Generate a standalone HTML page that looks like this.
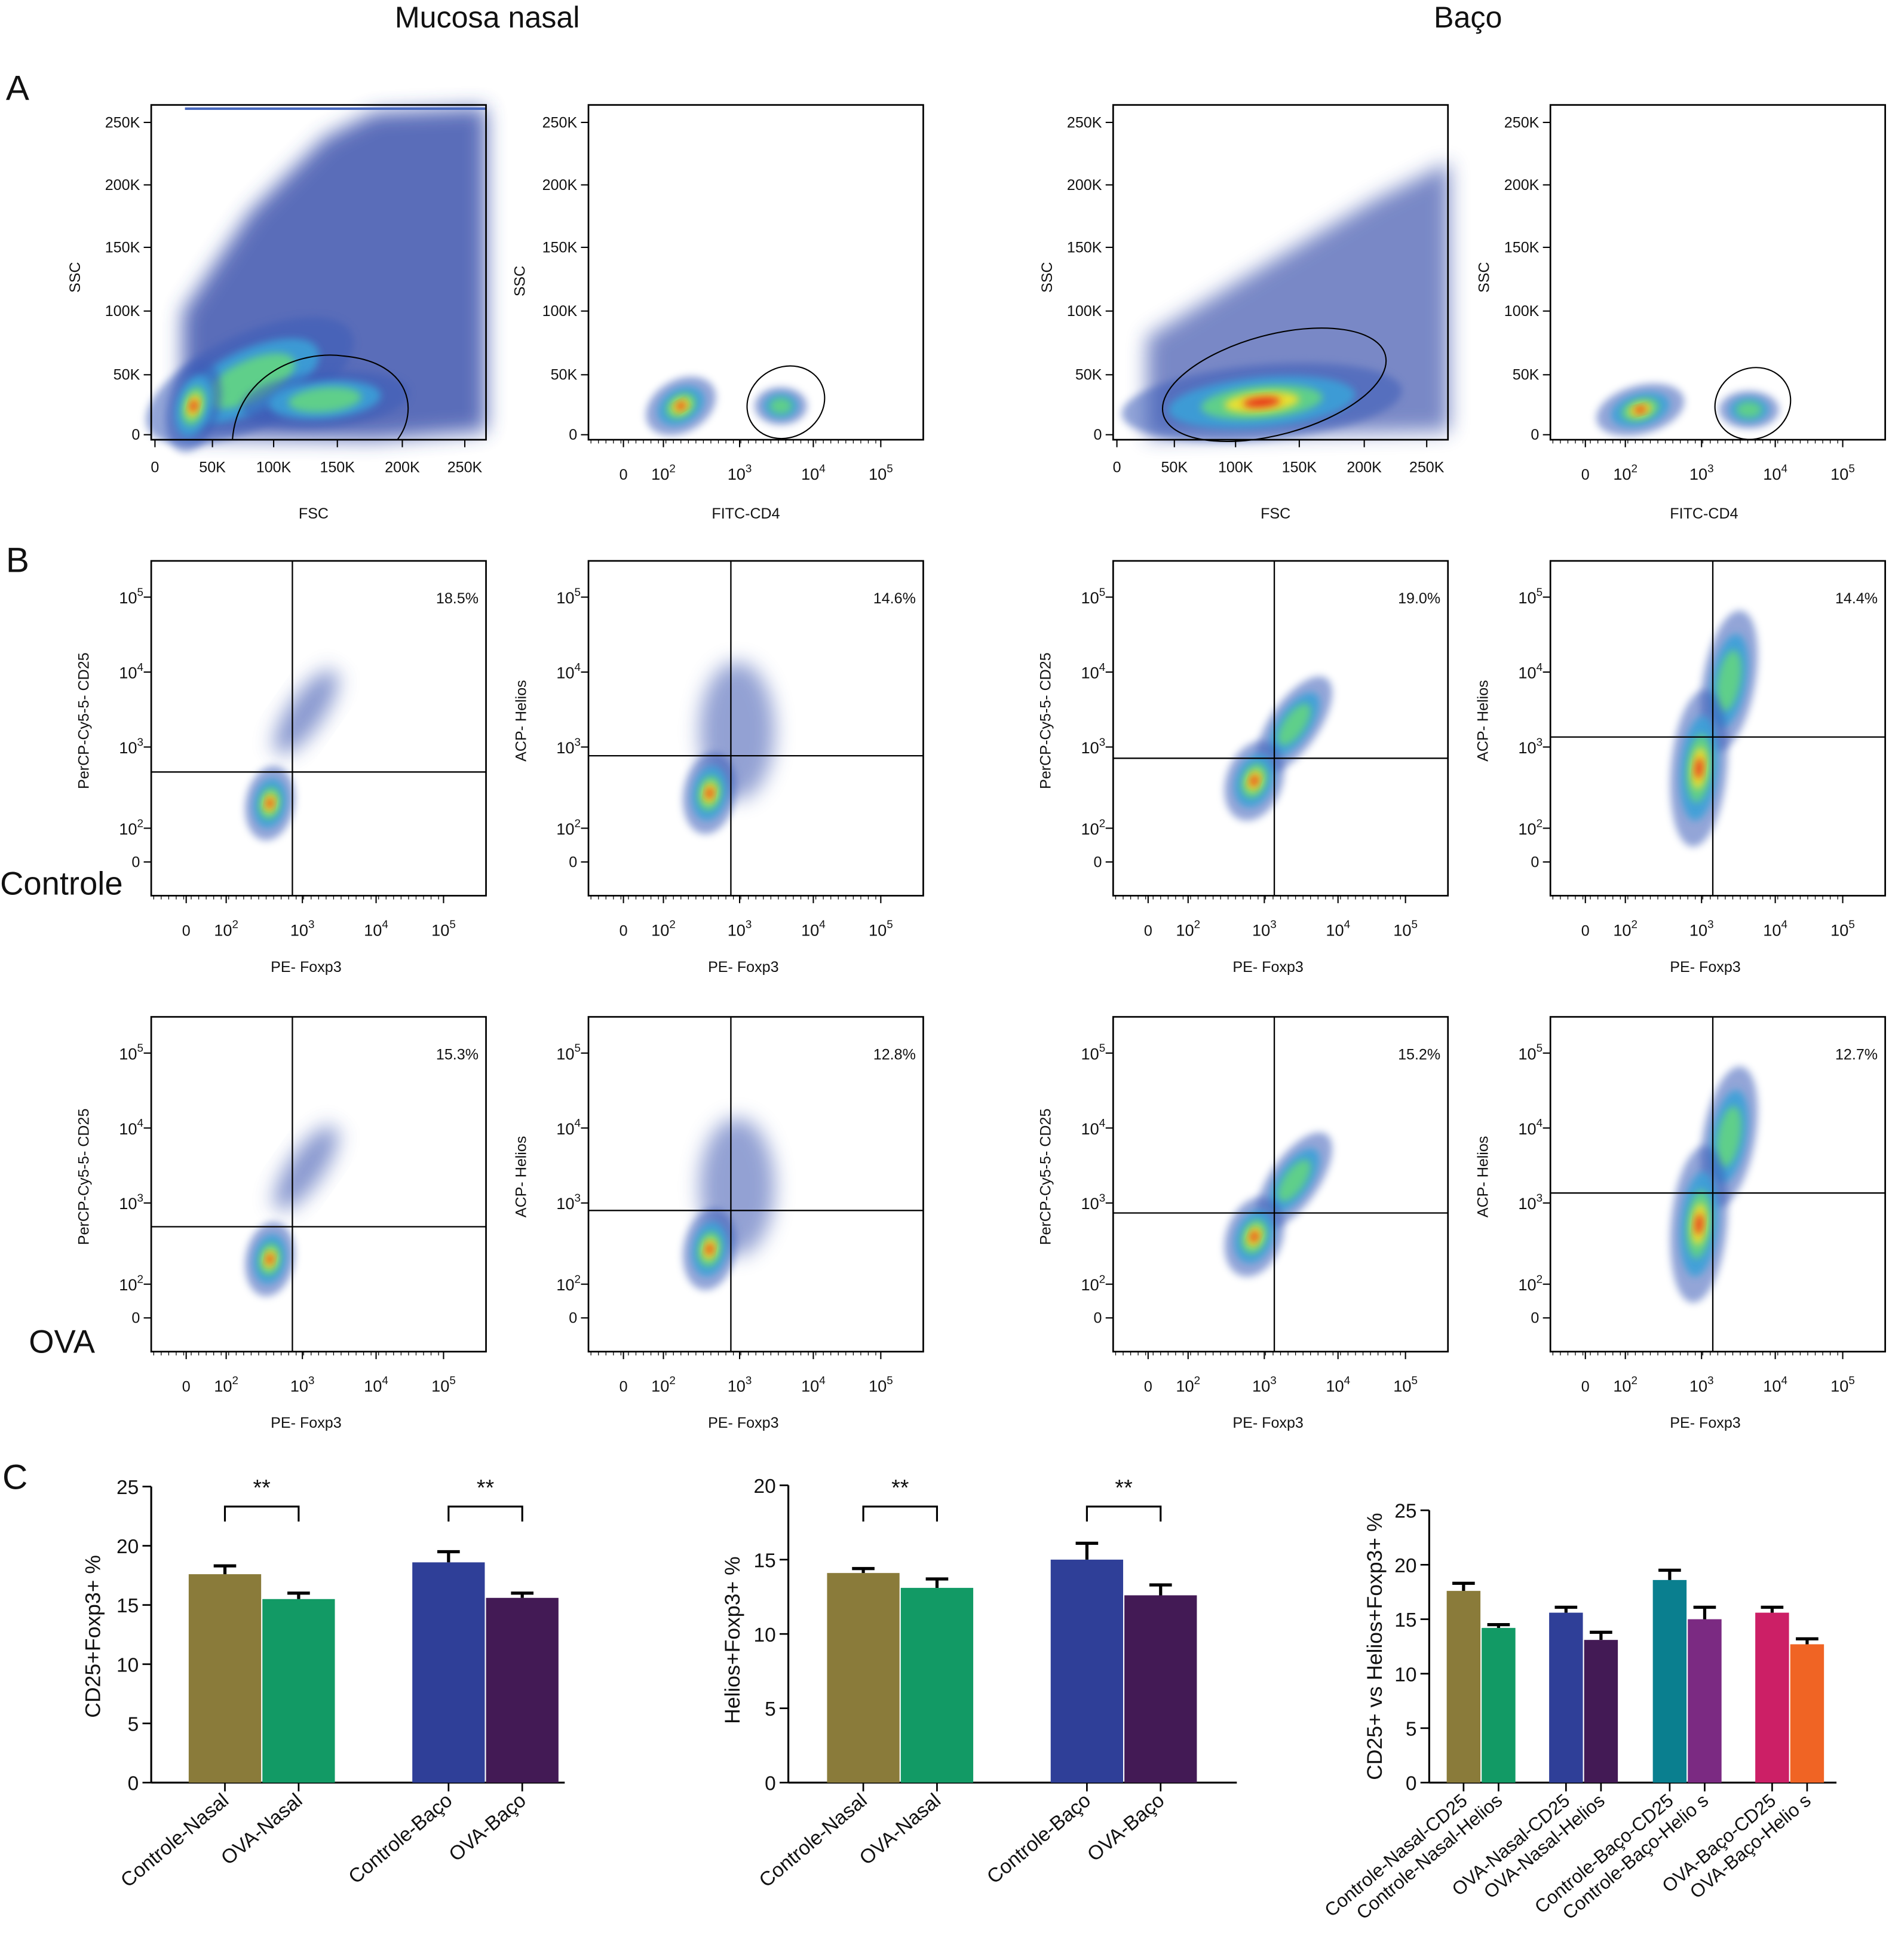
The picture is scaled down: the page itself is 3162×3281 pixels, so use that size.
<!DOCTYPE html>
<html><head><meta charset="utf-8"><style>
html,body{margin:0;padding:0;background:#fff}
svg{display:block}
text{font-family:"Liberation Sans",Arial,sans-serif;fill:#111}
</style></head><body>
<svg id="fig" width="3162" height="3281" viewBox="0 0 1512 1569" xmlns="http://www.w3.org/2000/svg">
<defs>
<filter id="bl" x="-50%" y="-50%" width="200%" height="200%"><feGaussianBlur stdDeviation="3"/></filter>
<filter id="bl2" x="-50%" y="-50%" width="200%" height="200%"><feGaussianBlur stdDeviation="8"/></filter>
</defs>
<g id="root"></g>
</svg>
<script>
// ---- Bar chart data ----
const c1Categories=["Controle-Nasal","OVA-Nasal","Controle-Baço","OVA-Baço"];
const c1Values=[17.6,15.5,18.6,15.6];
const c1Errors=[0.7,0.5,0.9,0.4];
const c1Ticks=[0,5,10,15,20,25];
const c2Categories=["Controle-Nasal","OVA-Nasal","Controle-Baço","OVA-Baço"];
const c2Values=[14.1,13.1,15.0,12.6];
const c2Errors=[0.3,0.6,1.1,0.7];
const c2Ticks=[0,5,10,15,20];
const c3Categories=["Controle-Nasal-CD25","Controle-Nasal-Helios","OVA-Nasal-CD25","OVA-Nasal-Helios","Controle-Baço-CD25","Controle-Baço-Helio s","OVA-Baço-CD25","OVA-Baço-Helio  s"];
const c3Values=[17.6,14.2,15.6,13.1,18.6,15.0,15.6,12.7];
const c3Errors=[0.7,0.3,0.5,0.7,0.9,1.1,0.5,0.5];
const c3Ticks=[0,5,10,15,20,25];
const pctRow1=["18.5%","14.6%","19.0%","14.4%"];
const pctRow2=["15.3%","12.8%","15.2%","12.7%"];
const linTicks=["0","50K","100K","150K","200K","250K"];

const NS="http://www.w3.org/2000/svg";
const root=document.getElementById('root');
function el(tag,attrs,parent,txt){const e=document.createElementNS(NS,tag);for(const k in attrs)e.setAttribute(k,attrs[k]);if(txt!==undefined)e.textContent=txt;(parent||root).appendChild(e);return e;}
function T(x,y,s,size,anchor,parent,name,rot){const t=el('text',{x:x,y:y,'font-size':size,'text-anchor':anchor||'middle'},parent,s);if(rot)t.setAttribute('transform',`rotate(${rot} ${x} ${y})`);

return t;}
function sup(x,y,exp,parent){const t=el('text',{x:x,y:y,'font-size':13,'text-anchor':'middle'},parent);


t.appendChild(document.createTextNode('10'));const s=el('tspan',{dy:-6,'font-size':9},t,exp);return t;}

T(390,22,"Mucosa nasal",24,'middle',null,'title-mucosa-nasal');
T(1175,22,"Baço",24,'middle',null,'title-baco');
T(14,80,"A",28,'middle',null,'panel-a-label');
T(14,458,"B",28,'middle',null,'panel-b-label');
T(12,1192,"C",28,'middle',null,'panel-c-label');
T(0,716,"Controle",26,'start',null,'row-label-controle');
T(23,1083,"OVA",26,'start',null,'row-label-ova');

function blob(g,cx,cy,rx,ry,rot,hot){
  const tr=`rotate(${rot} ${cx} ${cy})`;
  el('ellipse',{cx,cy,rx:rx*1.5,ry:ry*1.5,fill:'#3a5bb8',opacity:0.55,filter:'url(#bl)',transform:tr},g);
  el('ellipse',{cx,cy,rx:rx,ry:ry,fill:'#3aa0d8',opacity:0.9,filter:'url(#bl)',transform:tr},g);
  el('ellipse',{cx,cy,rx:rx*0.65,ry:ry*0.65,fill:'#5fcf8a',filter:'url(#bl)',transform:tr},g);
  if(hot){el('ellipse',{cx,cy,rx:rx*0.4,ry:ry*0.4,fill:'#e8e030',filter:'url(#bl)',transform:tr},g);
  el('ellipse',{cx,cy,rx:rx*0.2,ry:ry*0.2,fill:'#e8321e',filter:'url(#bl)',transform:tr},g);}
}
function frame(g,x0,y0){
  el('rect',{x:x0,y:y0,width:268,height:268,fill:'none',stroke:'#000','stroke-width':1.3},g);
}
function linPlot(x0,y0,name){
  const g=el('g',{});
  return g;
}
function linAxes(g,x0,y0){
  frame(g,x0,y0);
  const yt=[348,300,249,198,148,98];
  yt.forEach((y,i)=>{el('line',{x1:x0-6,y1:y0-84+y,x2:x0,y2:y0-84+y,stroke:'#000'},g);T(x0-9,y0-84+y+4,linTicks[i],12,'end',g,'y-tick-label');});
}
function xLin(g,x0){const xs=[3,49,98,149,201,251];xs.forEach((d,i)=>{el('line',{x1:x0+d,y1:352,x2:x0+d,y2:358,stroke:'#000'},g);T(x0+d,378,linTicks[i],12,'middle',g,'x-tick-label');});}
function xLog(g,x0,yb){const xs=[28,60,121,180,234];xs.forEach((d,i)=>{el('line',{x1:x0+d,y1:yb,x2:x0+d,y2:yb+6,stroke:'#000'},g);if(i==0)T(x0+d,yb+32,"0",12,'middle',g,'x-tick-label');else sup(x0+d,yb+32,String(i+1),g);});
  for(let d=2;d<234;d+=6)el('line',{x1:x0+d,y1:yb,x2:x0+d,y2:yb+3,stroke:'#000','stroke-width':0.6},g);}
// A1
let g=linPlot(121,84,'fsc-ssc-plot-nasal');
el('polygon',{points:'146,350 146,250 200,170 260,110 300,90 389,86 389,345 300,352',fill:'#3048a8',opacity:0.8,filter:'url(#bl2)'},g);
el('rect',{x:148,y:86,width:241,height:2,fill:'#4a6ac0'},g);
blob(g,200,305,60,25,-25,false);blob(g,260,320,45,15,-5,false);blob(g,155,325,14,25,15,true);
el('path',{d:'M186,352 C190,300 240,280 275,285 C330,290 335,330 318,352',fill:'none',stroke:'#000','stroke-width':1},g);
linAxes(g,121,84);
xLin(g,121);T(251,415,"FSC",12,'middle',g,'x-axis-title');T(64,222,"SSC",12,'middle',g,'y-axis-title',-90);
// A2
g=linPlot(471,84,'cd4-ssc-plot-nasal');
blob(g,545,325,20,14,-30,true);blob(g,625,325,14,10,0,false);
el('ellipse',{cx:629,cy:322,rx:32,ry:28,transform:'rotate(-30 629 322)',fill:'none',stroke:'#000'},g);
linAxes(g,471,84);
xLog(g,471,352);T(597,415,"FITC-CD4",12,'middle',g,'x-axis-title');T(420,225,"SSC",12,'middle',g,'y-axis-title',-90);
// A3
g=linPlot(891,84,'fsc-ssc-plot-baco');
el('polygon',{points:'918,350 918,270 1000,220 1100,160 1160,130 1160,345',fill:'#3048a8',opacity:0.65,filter:'url(#bl2)'},g);
blob(g,1010,322,75,20,-5,true);
el('ellipse',{cx:1020,cy:308,rx:92,ry:40,transform:'rotate(-15 1020 308)',fill:'none',stroke:'#000'},g);
linAxes(g,891,84);
xLin(g,891);T(1021,415,"FSC",12,'middle',g,'x-axis-title');T(842,222,"SSC",12,'middle',g,'y-axis-title',-90);
// A4
g=linPlot(1241,84,'cd4-ssc-plot-baco');
blob(g,1313,328,24,13,-15,true);blob(g,1400,328,16,10,0,false);
el('ellipse',{cx:1403,cy:323,rx:31,ry:28,transform:'rotate(-30 1403 323)',fill:'none',stroke:'#000'},g);
linAxes(g,1241,84);
xLog(g,1241,352);T(1364,415,"FITC-CD4",12,'middle',g,'x-axis-title');T(1192,222,"SSC",12,'middle',g,'y-axis-title',-90);

// Row B
function logPlot(x0,y0,name,ytitle,pct,vx,hy,blobs){
  const g=el('g',{});
  blobs(g);
  frame(g,x0,y0);
  const yt=[241,214,149,89,29];
  const labs=['0','2','3','4','5'];
  yt.forEach((d,i)=>{const y=y0+d;el('line',{x1:x0-6,y1:y,x2:x0,y2:y,stroke:'#000'},g);if(i==0)T(x0-9,y+4,'0',12,'end',g,'y-tick-label');else sup(x0-16,y+5,labs[i],g);});
  el('line',{x1:vx,y1:y0,x2:vx,y2:y0+268,stroke:'#000','stroke-width':1.1},g);
  el('line',{x1:x0,y1:hy,x2:x0+268,y2:hy,stroke:'#000','stroke-width':1.1},g);
  T(x0+262,y0+34,pct,12,'end',g,'quadrant-percent');
  xLog(g,x0,y0+268);
  T(x0+124,y0+329,"PE- Foxp3",12,'middle',g,'x-axis-title');
  T(x0-50,y0+128,ytitle,12,'middle',g,'y-axis-title',-90);
  return g;
}
const rows=[[449,pctRow1,[618,605,607,590]],[814,pctRow2,[982,969,971,955]]];
rows.forEach((r,ri)=>{const y0=r[0];const o=y0-449;
 logPlot(121,y0,'cd25-foxp3-nasal-'+ri,"PerCP-Cy5-5- CD25",r[1][0],234,r[2][0],g=>{el('ellipse',{cx:245,cy:o+570,rx:14,ry:40,transform:`rotate(35 245 ${o+570})`,fill:'#3a55b0',opacity:0.6,filter:'url(#bl2)'},g);blob(g,216,o+643,13,20,10,true);});
 logPlot(471,y0,'helios-foxp3-nasal-'+ri,"ACP- Helios",r[1][1],585,r[2][1],g=>{el('ellipse',{cx:590,cy:o+585,rx:30,ry:55,fill:'#3a55b0',opacity:0.55,filter:'url(#bl2)'},g);blob(g,568,o+635,14,22,10,true);});
 logPlot(891,y0,'cd25-foxp3-baco-'+ri,"PerCP-Cy5-5- CD25",r[1][2],1020,r[2][2],g=>{blob(g,1036,o+580,13,30,35,false);blob(g,1004,o+625,15,22,20,true);});
 logPlot(1241,y0,'helios-foxp3-baco-'+ri,"ACP- Helios",r[1][3],1371,r[2][3],g=>{blob(g,1384,o+545,14,38,10,false);blob(g,1360,o+615,15,42,5,true);});
});

// Row C bars
function barChart(o){
  const g=el('g',{});
  const y0=1427;const sc=v=>y0-(v/o.max)*(y0-o.top);
  el('line',{x1:o.ax,y1:o.top,x2:o.ax,y2:y0,stroke:'#000','stroke-width':1.5},g);
  el('line',{x1:o.ax,y1:y0,x2:o.axEnd,y2:y0,stroke:'#000','stroke-width':1.5},g);
  o.ticks.forEach(t=>{const y=sc(t);el('line',{x1:o.ax-7,y1:y,x2:o.ax,y2:y,stroke:'#000','stroke-width':1.3},g);T(o.ax-10,y+6,String(t),16,'end',g,'y-tick-label');});
  o.values.forEach((v,i)=>{const x=o.xs[i];const w=o.w;const y=sc(v);
    const b=el('rect',{x:x,y:y,width:w,height:y0-y,fill:o.colors[i]},g);
    
    
    const ye=sc(v+o.errs[i]);
    el('line',{x1:x+w/2,y1:y,x2:x+w/2,y2:ye,stroke:'#000','stroke-width':2.5},g);
    el('line',{x1:x+w/2-9,y1:ye,x2:x+w/2+9,y2:ye,stroke:'#000','stroke-width':2.5},g);
    const cx=x+w/2;el('line',{x1:cx,y1:y0,x2:cx,y2:y0+7,stroke:'#000','stroke-width':1.3},g);
    T(cx+4,y0+16,o.cats[i],o.fs,'end',g,'x-category-label',o.rot);
  });
  (o.sig||[]).forEach(s=>{const a=o.xs[s[0]]+o.w/2,b=o.xs[s[1]]+o.w/2;
    el('polyline',{points:`${a},1218 ${a},1206 ${b},1206 ${b},1218`,fill:'none',stroke:'#000','stroke-width':1.5},g);
    T((a+b)/2,1197,"**",18,'middle',g,'significance-marker');});
  T(o.ytx,o.yty,o.ytitle,17,'middle',g,'y-axis-title',-90);
}
const cols4=['#8a7b3a','#129a65','#2f3f98','#431a55'];
barChart({name:'cd25-bar-chart',ax:121,axEnd:452,top:1190,max:25,ticks:c1Ticks,values:c1Values,errs:c1Errors,cats:c1Categories,xs:[151,210,330,389],w:58,colors:cols4,sig:[[0,1],[2,3]],fs:16,rot:-40,ytitle:"CD25+Foxp3+ %",ytx:80,yty:1310});
barChart({name:'helios-bar-chart',ax:631,axEnd:990,top:1189,max:20,ticks:c2Ticks,values:c2Values,errs:c2Errors,cats:c2Categories,xs:[662,721,841,900],w:58,colors:cols4,sig:[[0,1],[2,3]],fs:16,rot:-40,ytitle:"Helios+Foxp3+ %",ytx:592,yty:1313});
barChart({name:'cd25-vs-helios-bar-chart',ax:1144,axEnd:1470,top:1209,max:25,ticks:c3Ticks,values:c3Values,errs:c3Errors,cats:c3Categories,xs:[1158,1186,1240,1268,1323,1351,1405,1433],w:27,colors:['#8a7b3a','#129a65','#2f3f98','#431a55','#0a7f8f','#7b2a82','#cc1f66','#f06424'],fs:15,rot:-40,ytitle:"CD25+ vs Helios+Foxp3+ %",ytx:1106,yty:1318});
</script>
</body></html>
